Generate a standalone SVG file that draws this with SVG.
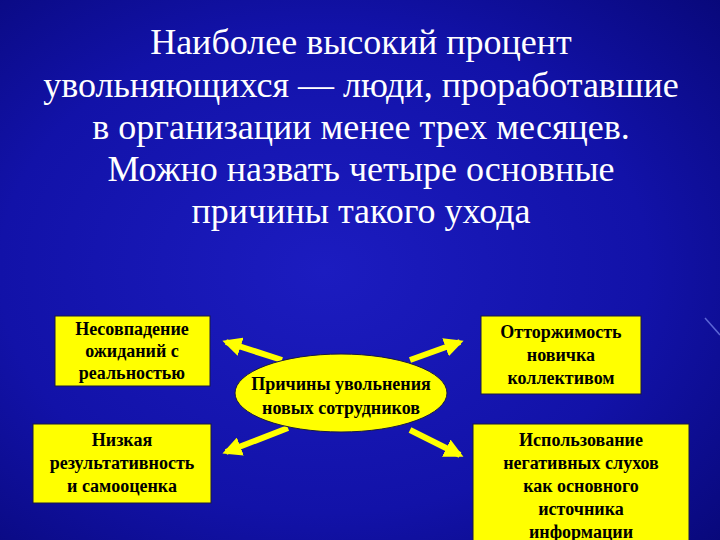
<svg xmlns="http://www.w3.org/2000/svg" width="720" height="540" viewBox="0 0 720 540">
<defs>
<radialGradient id="bg" cx="0.45" cy="0.5" r="0.75">
<stop offset="0" stop-color="#1c1cc0"/><stop offset="0.6" stop-color="#1212a8"/><stop offset="1" stop-color="#08087a"/>
</radialGradient>
<marker id="ah" viewBox="0 0 10 10" refX="8" refY="5" markerWidth="3.2" markerHeight="3.2" orient="auto"><path d="M0,0L10,5L0,10z" fill="#ffff00"/></marker>
<style>
.t{font-family:"Liberation Serif",serif;fill:#fff;font-size:36px;text-anchor:middle}
.b{fill:#ffff00;stroke:#1a1a40;stroke-width:1}
.l{font-family:"Liberation Serif",serif;font-weight:bold;font-size:18px;fill:#000;text-anchor:middle}
.c{stroke:#ffff00;stroke-width:6;fill:none;marker-end:url(#ah)}
</style>
</defs>
<rect width="720" height="540" fill="url(#bg)"/>
<path d="M705,318 L720,335" stroke="#8fa0ff" stroke-width="1.5" opacity="0.6"/>
<g id="title">
<text class="t" x="361" y="54">Наиболее высокий процент</text>
<text class="t" x="361" y="97">увольняющихся — люди, проработавшие</text>
<text class="t" x="361" y="139">в организации менее трех месяцев.</text>
<text class="t" x="361" y="181">Можно назвать четыре основные</text>
<text class="t" x="361" y="223">причины такого ухода</text>
</g>
<g id="connectors">
<line class="c" x1="282" y1="360" x2="226" y2="342"/>
<line class="c" x1="410" y1="360" x2="460" y2="342"/>
<line class="c" x1="288" y1="428" x2="226" y2="452"/>
<line class="c" x1="410" y1="430" x2="460" y2="455"/>
</g>
<g id="center">
<ellipse cx="341" cy="393" rx="106" ry="39" fill="#ffff00" stroke="#1a1a40"/>
<text class="l" x="341" y="390">Причины увольнения</text>
<text class="l" x="341" y="414">новых сотрудников</text>
</g>
<g id="n1"><rect class="b" x="55" y="316" width="155" height="70"/>
<text class="l" x="132" y="335">Несовпадение</text><text class="l" x="132" y="357">ожиданий с</text><text class="l" x="132" y="379">реальностью</text></g>
<g id="n2"><rect class="b" x="33" y="424" width="178" height="79"/>
<text class="l" x="122" y="446">Низкая</text><text class="l" x="122" y="469">результативность</text><text class="l" x="122" y="492">и самооценка</text></g>
<g id="n3"><rect class="b" x="481" y="316" width="160" height="78"/>
<text class="l" x="561" y="338">Отторжимость</text><text class="l" x="561" y="361">новичка</text><text class="l" x="561" y="384">коллективом</text></g>
<g id="n4"><rect class="b" x="473" y="424" width="216" height="130"/>
<text class="l" x="581" y="446">Использование</text><text class="l" x="581" y="469">негативных слухов</text><text class="l" x="581" y="492">как основного</text><text class="l" x="581" y="515">источника</text><text class="l" x="581" y="538">информации</text></g>
</svg>
